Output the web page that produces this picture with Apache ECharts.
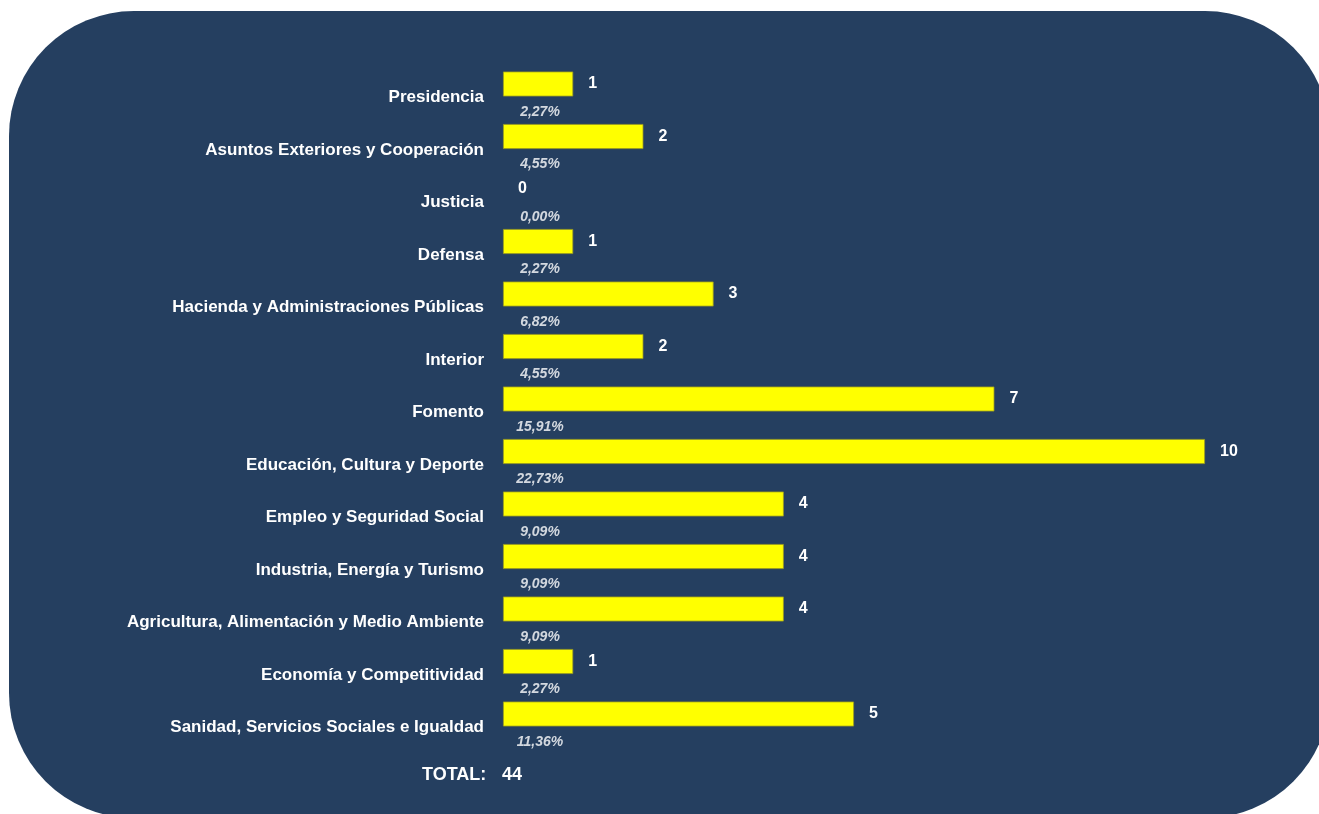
<!DOCTYPE html>
<html><head><meta charset="utf-8">
<style>html,body{margin:0;padding:0;background:#fff;}#c{width:1319px;height:814px;}</style>
<script src="https://cdn.jsdelivr.net/npm/echarts@6/dist/echarts.min.js"></script>
</head><body><div id="c"></div>
<script>
const categories = ["Presidencia","Asuntos Exteriores y Cooperación","Justicia","Defensa","Hacienda y Administraciones Públicas","Interior","Fomento","Educación, Cultura y Deporte","Empleo y Seguridad Social","Industria, Energía y Turismo","Agricultura, Alimentación y Medio Ambiente","Economía y Competitividad","Sanidad, Servicios Sociales e Igualdad"];
const values = [1,2,0,1,3,2,7,10,4,4,4,1,5];
const percents = ["2,27%","4,55%","0,00%","2,27%","6,82%","4,55%","15,91%","22,73%","9,09%","9,09%","9,09%","2,27%","11,36%"];
const totalText = "TOTAL:";
const totalValue = "44";

const font = '"Liberation Sans", Arial, sans-serif';
const chart = echarts.init(document.getElementById('c'), null, {renderer:'canvas'});
chart.setOption({
  backgroundColor: '#ffffff',
  animation: false,
  graphic: [
    {type:'rect', z:-10, shape:{x:9,y:11,width:1321,height:807,r:125}, style:{fill:'#253F60'}},
    {type:'text', left:422, top:766, z:10, style:{text:totalText, fill:'#ffffff', font:'bold 18px '+font}},
    {type:'text', left:502, top:766, z:10, style:{text:totalValue, fill:'#ffffff', font:'bold 18px '+font}}
  ],
  grid: {left:503, top:57.75, width:702, height:682.5, containLabel:false},
  xAxis: {type:'value', min:0, max:10, show:false},
  yAxis: {
    type:'category', data:categories, inverse:true,
    axisLine:{show:false}, axisTick:{show:false}, splitLine:{show:false},
    axisLabel:{color:'#ffffff', fontFamily:font, fontWeight:'bold', fontSize:17, margin:19, verticalAlign:'top', lineHeight:27}
  },
  series: [
    {
      type:'bar', barWidth:25,
      data: values.map(v => ({value:v, itemStyle:{borderWidth: v === 0 ? 0 : 0.8}})),
      itemStyle:{color:'#FFFF00', borderColor:'#9a9a20'},
      label:{show:true, position:'right', distance:15, color:'#ffffff', fontFamily:font, fontWeight:'bold', fontSize:16}
    },
    {
      type:'scatter', data:values.map((v,i)=>[0,i]), symbolSize:0, silent:true,
      label:{show:true, position:'inside', offset:[37,28], color:'#ffffff', fontFamily:font, fontWeight:'bold', fontStyle:'italic', fontSize:14,
        formatter:(p)=>percents[p.dataIndex]}
    }
  ]
});
</script></body></html>
